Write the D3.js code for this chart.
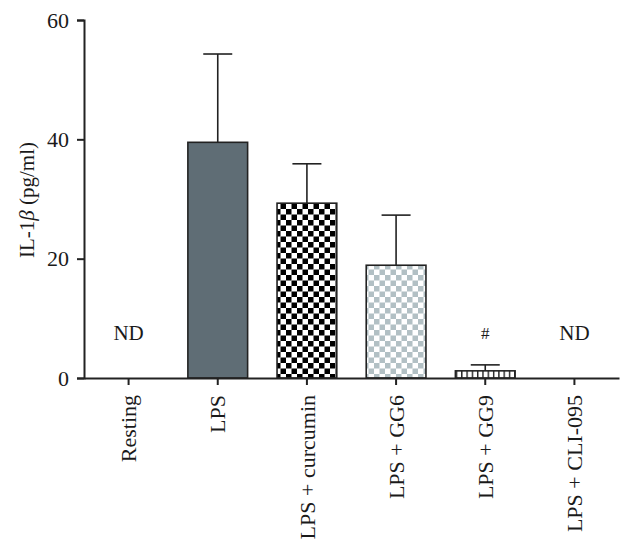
<!DOCTYPE html>
<html>
<head>
<meta charset="utf-8">
<script src="https://cdn.jsdelivr.net/npm/d3@7"></script>
<style>
  body { margin: 0; background: #fff; }
  svg text { font-family: 'Liberation Serif', 'DejaVu Serif', serif; fill: #1a1a1a; }
</style>
</head>
<body>
<div id="chart"></div>
<script>
'use strict';

// data
const categories  = ['Resting', 'LPS', 'LPS + curcumin', 'LPS + GG6', 'LPS + GG9', 'LPS + CLI-095'];
const means       = [null, 39.5, 29.3, 18.9, 1.2, null];
const errors      = [null, 14.8, 6.6, 8.4, 1.0, null];
const notes       = ['ND', '', '', '', '#', 'ND'];
const fills       = ['none', '#5f6d75', 'url(#checkBlack)', 'url(#checkGrey)', 'url(#stripes)', 'none'];
const yTicks      = [0, 20, 40, 60];

const W = 634, H = 549;
const margin = {top: 20, right: 15, bottom: 171, left: 84};

const svg = d3.select('#chart').append('svg').attr('width', W).attr('height', H);

//patterns for the bars
const defs = svg.append('defs');
let p = defs.append('pattern').attr('id', 'checkBlack').attr('patternUnits', 'userSpaceOnUse')
  .attr('width', 11).attr('height', 11);
p.append('rect').attr('width', 11).attr('height', 11).attr('fill', '#fff');
p.append('rect').attr('width', 5.5).attr('height', 5.5).attr('fill', '#000');
p.append('rect').attr('x', 5.5).attr('y', 5.5).attr('width', 5.5).attr('height', 5.5).attr('fill', '#000');

p = defs.append('pattern').attr('id', 'checkGrey').attr('patternUnits', 'userSpaceOnUse')
  .attr('width', 11).attr('height', 11);
p.append('rect').attr('width', 11).attr('height', 11).attr('fill', '#fff');
p.append('rect').attr('width', 5.5).attr('height', 5.5).attr('fill', '#b2c0c4');
p.append('rect').attr('x', 5.5).attr('y', 5.5).attr('width', 5.5).attr('height', 5.5).attr('fill', '#b2c0c4');

p = defs.append('pattern').attr('id', 'stripes').attr('patternUnits', 'userSpaceOnUse')
  .attr('width', 5.3).attr('height', 10);
p.append('rect').attr('width', 5.3).attr('height', 10).attr('fill', '#fff');
p.append('rect').attr('width', 1.4).attr('height', 10).attr('fill', '#222');

const x = d3.scaleBand().domain(categories)
  .range([margin.left, W - margin.right]).paddingInner(0.33).paddingOuter(0.165);
const y = d3.scaleLinear().domain([0, 60]).range([H - margin.bottom, margin.top]);

const data = categories.map((c, i) => ({cat: c, mean: means[i], err: errors[i], note: notes[i], fill: fills[i]}));
const withBar = data.filter(d => d.mean !== null);

//error bars (upper half)
const eb = svg.append('g').attr('stroke', '#222').attr('stroke-width', 1.6);
eb.selectAll('line.v').data(withBar).join('line').attr('class', 'v')
  .attr('x1', d => x(d.cat) + x.bandwidth() / 2).attr('x2', d => x(d.cat) + x.bandwidth() / 2)
  .attr('y1', d => y(d.mean)).attr('y2', d => y(d.mean + d.err));
eb.selectAll('line.c').data(withBar).join('line').attr('class', 'c')
  .attr('x1', d => x(d.cat) + x.bandwidth() / 2 - 14.5).attr('x2', d => x(d.cat) + x.bandwidth() / 2 + 14.5)
  .attr('y1', d => y(d.mean + d.err)).attr('y2', d => y(d.mean + d.err));

//bars
svg.append('g').selectAll('rect').data(withBar).join('rect')
  .attr('x', d => x(d.cat)).attr('width', x.bandwidth())
  .attr('y', d => y(d.mean)).attr('height', d => y(0) - y(d.mean))
  .attr('fill', d => d.fill).attr('stroke', '#222').attr('stroke-width', 1.6);

//line through the small GG9 bar
eb.selectAll('line.in').data(withBar.filter(d => d.mean < 3)).join('line').attr('class', 'in')
  .attr('x1', d => x(d.cat) + x.bandwidth() / 2).attr('x2', d => x(d.cat) + x.bandwidth() / 2)
  .attr('y1', d => y(0)).attr('y2', d => y(d.mean));

//ND / # notes
svg.append('g').selectAll('text').data(data.filter(d => d.note)).join('text')
  .attr('x', d => x(d.cat) + x.bandwidth() / 2)
  .attr('y', d => d.note === '#' ? 339 : 340)
  .attr('text-anchor', 'middle')
  .style('font-size', d => d.note === '#' ? '17px' : '21px')
  .text(d => d.note);

//y axis
const yAxis = svg.append('g').attr('transform', `translate(${margin.left},0)`)
  .call(d3.axisLeft(y).tickValues(yTicks).tickSize(7).tickPadding(8));
yAxis.select('.domain').attr('stroke', '#222').attr('stroke-width', 2);
yAxis.selectAll('.tick line').attr('stroke', '#222').attr('stroke-width', 2);
yAxis.selectAll('.tick text').style('font-size', '22px').attr('fill', '#1a1a1a');

//x axis
const xAxis = svg.append('g').attr('transform', `translate(0,${y(0)})`)
  .call(d3.axisBottom(x).tickSize(7).tickSizeOuter(0));
xAxis.select('.domain').attr('stroke', '#222').attr('stroke-width', 2);
xAxis.selectAll('.tick line').attr('stroke', '#222').attr('stroke-width', 2);
xAxis.selectAll('.tick text')
  .style('font-size', '22px').attr('fill', '#1a1a1a')
  .attr('text-anchor', 'end')
  .attr('transform', 'rotate(-90)')
  .attr('x', -17).attr('y', 0).attr('dy', '0.35em');

//y label
const yl = svg.append('text')
  .attr('transform', `translate(34,${(y(0) + y(60)) / 2 + 1}) rotate(-90)`)
  .attr('text-anchor', 'middle')
  .style('font-size', '21px');
yl.append('tspan').text('IL-1');
yl.append('tspan').style('font-style', 'italic').text('β');
yl.append('tspan').text(' (pg/ml)');
</script>
</body>
</html>
